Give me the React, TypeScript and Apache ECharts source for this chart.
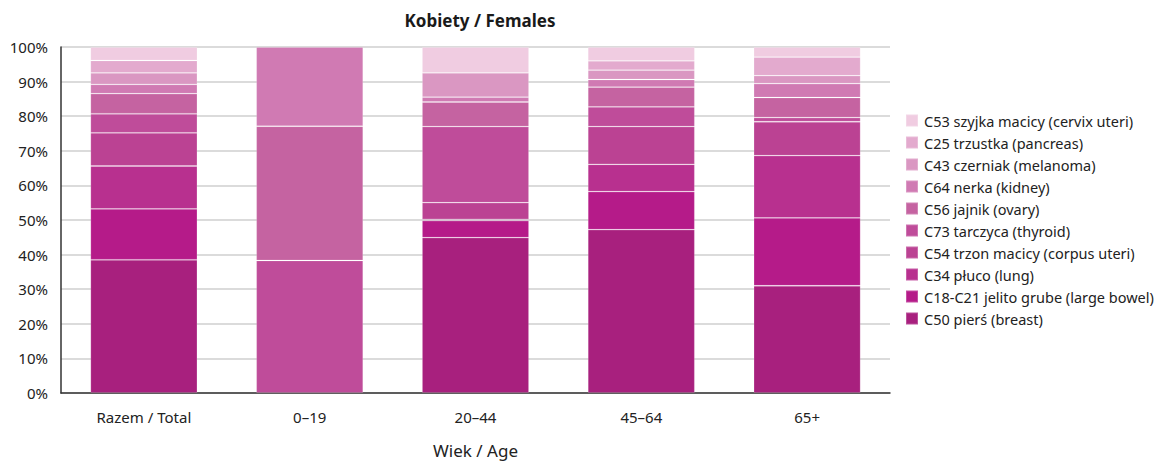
import React, { useEffect, useRef } from "react";
import * as echarts from "echarts";

const categories = ["Razem / Total", "0–19", "20–44", "45–64", "65+"];

const seriesNames = [
  "C50 pierś (breast)",
  "C18-C21 jelito grube (large bowel)",
  "C34 płuco (lung)",
  "C54 trzon macicy (corpus uteri)",
  "C73 tarczyca (thyroid)",
  "C56 jajnik (ovary)",
  "C64 nerka (kidney)",
  "C43 czerniak (melanoma)",
  "C25 trzustka (pancreas)",
  "C53 szyjka macicy (cervix uteri)",
];

const breast = [38.5, 0, 44.9, 47.2, 31.0];
const largeBowel = [14.7, 0, 4.9, 11.0, 19.6];
const lung = [12.4, 0, 0.4, 7.9, 18.0];
const corpusUteri = [9.6, 0, 4.8, 10.9, 9.8];
const thyroid = [5.5, 38.3, 22.0, 5.7, 1.2];
const ovary = [5.8, 38.8, 7.1, 5.7, 5.8];
const kidney = [2.7, 22.9, 1.4, 2.2, 4.0];
const melanoma = [3.3, 0, 7.0, 2.7, 2.3];
const pancreas = [3.6, 0, 0, 2.7, 5.4];
const cervix = [3.9, 0, 7.5, 4.0, 2.9];

const seriesValues = [breast, largeBowel, lung, corpusUteri, thyroid, ovary, kidney, melanoma, pancreas, cervix];

const colors = [
  "#A8207E",
  "#B51B89",
  "#B8308F",
  "#BB4293",
  "#BF4C9A",
  "#C563A1",
  "#D07AB3",
  "#DA97C2",
  "#E3AACE",
  "#F0CCE1",
];

const yTicks = [0, 10, 20, 30, 40, 50, 60, 70, 80, 90, 100];

const FONT = "'Noto Sans', 'DejaVu Sans', sans-serif";

export default function App() {
  const ref = useRef<HTMLDivElement>(null);
  useEffect(() => {
    if (!ref.current) return;
    const chart = echarts.init(ref.current, undefined, { renderer: "svg" });
    chart.setOption({
      animation: false,
      backgroundColor: "#ffffff",
      title: {
        text: "Kobiety / Females",
        left: 475,
        textAlign: "center",
        top: 7,
        textStyle: { fontFamily: FONT, fontSize: 17, fontWeight: "bold", color: "#1a1a1a" },
      },
      legend: {
        orient: "vertical",
        left: 905,
        top: 113,
        padding: 0,
        itemWidth: 12,
        itemHeight: 12,
        itemGap: 7,
        icon: "rect",
        data: seriesNames.slice().reverse(),
        textStyle: { fontFamily: FONT, fontSize: 14.5, color: "#222", padding: [0, 0, 0, 1] },
      },
      grid: { left: 61, right: 273, top: 47, bottom: 72, containLabel: false },
      xAxis: {
        type: "category",
        data: categories,
        name: "Wiek / Age",
        nameLocation: "middle",
        nameGap: 49,
        nameTextStyle: { fontFamily: FONT, fontSize: 17, color: "#222" },
        axisLine: { lineStyle: { color: "#333", width: 1.5 } },
        axisTick: { show: false },
        axisLabel: { fontFamily: FONT, fontSize: 15, color: "#222", margin: 16 },
      },
      yAxis: {
        type: "value",
        min: 0,
        max: 100,
        interval: 10,
        axisLine: { show: true, lineStyle: { color: "#333", width: 1.5 } },
        axisTick: { show: false },
        axisLabel: {
          fontFamily: FONT,
          fontSize: 15,
          color: "#222",
          margin: 13,
          formatter: (v: number) => (yTicks.includes(v) ? v + "%" : ""),
        },
        splitLine: { lineStyle: { color: "#cfcfcf", width: 1.5 } },
      },
      series: seriesNames.map((name, i) => ({
        name,
        type: "bar",
        stack: "total",
        data: seriesValues[i].map((v) => (v === 0 ? "-" : v)),
        barWidth: "64.5%",
        itemStyle: {
          color: colors[i],
          borderColor: "rgba(255,255,255,0.22)",
          borderWidth: 0.8,
        },
      })),
    });
    return () => chart.dispose();
  }, []);
  return (
    <div
      ref={ref}
      style={{ position: "fixed", left: 0, top: 0, width: 1163, height: 465 }}
    />
  );
}
